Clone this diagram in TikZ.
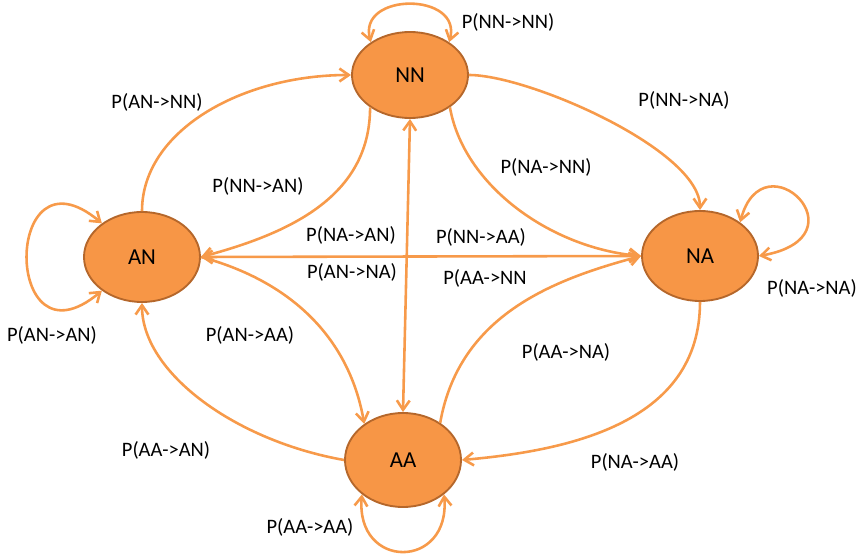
\documentclass[tikz,border=0pt]{standalone}
\usepackage{fontspec}
\setmainfont{Carlito}
\usepackage{xcolor}
\usepackage{tikz}
\usetikzlibrary{arrows.meta,shapes.geometric}
\definecolor{stfill}{HTML}{F79646}
\definecolor{stline}{HTML}{B5672B}
\definecolor{trline}{HTML}{F79A4A}
\newcommand{\lbltext}{\fontsize{17.5pt}{18pt}\selectfont}
\newcommand{\sttext}{\fontsize{19.5pt}{20pt}\selectfont}
\tikzset{
  trtip/.tip={Straight Barb[length=8pt,width=11pt]},
  trarr/.style={-trtip, line width=2.2pt, draw=trline},
  trboth/.style={trarr, trtip-trtip},
  stnode/.style={ellipse, draw=stline, fill=stfill, line width=1.6pt,
    minimum width=3.48cm, minimum height=2.7cm, inner sep=0pt, font=\sttext},
  trlbl/.style={inner sep=0.5pt, font=\lbltext}
}

\begin{document}
\begin{tikzpicture}[x=0.03cm,y=0.03cm]
  \useasboundingbox (0,0) rectangle (864,555);
  \node[stnode,minimum height=2.58cm] (NN) at (410,480) {NN};
  \node[stnode] (AN) at (142,298) {AN};
  \node[stnode] (NA) at (700,299) {NA};
  \node[stnode,minimum height=2.82cm] (AA) at (403,95) {AA};

  \draw[trboth] (AN.east) -- (NA.west);
  \draw[trboth] (NN.south) -- (AA.north);

  \draw[trarr] (AN.90) .. controls +(90:80) and +(180:110) .. (NN.180);
  \draw[trarr] (NN.219) .. controls +(-90:90) and +(15:90) .. (AN.0);
  \draw[trarr] (AN.0) .. controls +(-15:90) and +(100:90) .. (AA.137);
  \draw[trarr] (AA.180) .. controls +(170:110) and +(-90:70) .. (AN.270);
  \draw[trarr] (NN.0) .. controls +(0:60) and +(90:60) .. (NA.90);
  \draw[trarr] (NN.321) .. controls +(-80:80) and +(175:90) .. (NA.180);
  \draw[trarr] (AA.45) .. controls +(80:110) and +(195:90) .. (NA.180);
  \draw[trarr] (NA.270) .. controls +(-90:120) and +(5:110) .. (AA.0);

  \draw[trboth] (NN.140) .. controls +(105:52) and +(75:52) .. (NN.40);
  \draw[trboth] (AN.140) .. controls +(140:130) and +(220:130) .. (AN.220);
  \draw[trboth] (NA.40) .. controls +(75:90) and +(10:110) .. (NA.0);
  \draw[trboth] (AA.220) .. controls +(-95:76) and +(-85:76) .. (AA.320);

  \node[trlbl] (pNNNN) at (508,533) {P(NN->NN)};
  \node[trlbl] (pANNN) at (157,453) {P(AN->NN)};
  \node[trlbl] (pNNNA) at (684,455) {P(NN->NA)};
  \node[trlbl] (pNNAN) at (258,369) {P(NN->AN)};
  \node[trlbl] (pNANN) at (546,388) {P(NA->NN)};
  \node[trlbl] (pNAAN) at (351,320) {P(NA->AN)};
  \node[trlbl] (pNNAA) at (481,318) {P(NN->AA)};
  \node[trlbl] (pANNA) at (352,283) {P(AN->NA)};
  \node[trlbl] (pAANN) at (485,277) {P(AA->NN};
  \node[trlbl] (pNANA) at (812,267) {P(NA->NA)};
  \node[trlbl] (pANAN) at (52,220) {P(AN->AN)};
  \node[trlbl] (pANAA) at (250,220) {P(AN->AA)};
  \node[trlbl] (pAANA) at (566,203) {P(AA->NA)};
  \node[trlbl] (pAAAN) at (166,105) {P(AA->AN)};
  \node[trlbl] (pNAAA) at (635,93) {P(NA->AA)};
  \node[trlbl] (pAAAA) at (310,28) {P(AA->AA)};
\end{tikzpicture}
\end{document}
